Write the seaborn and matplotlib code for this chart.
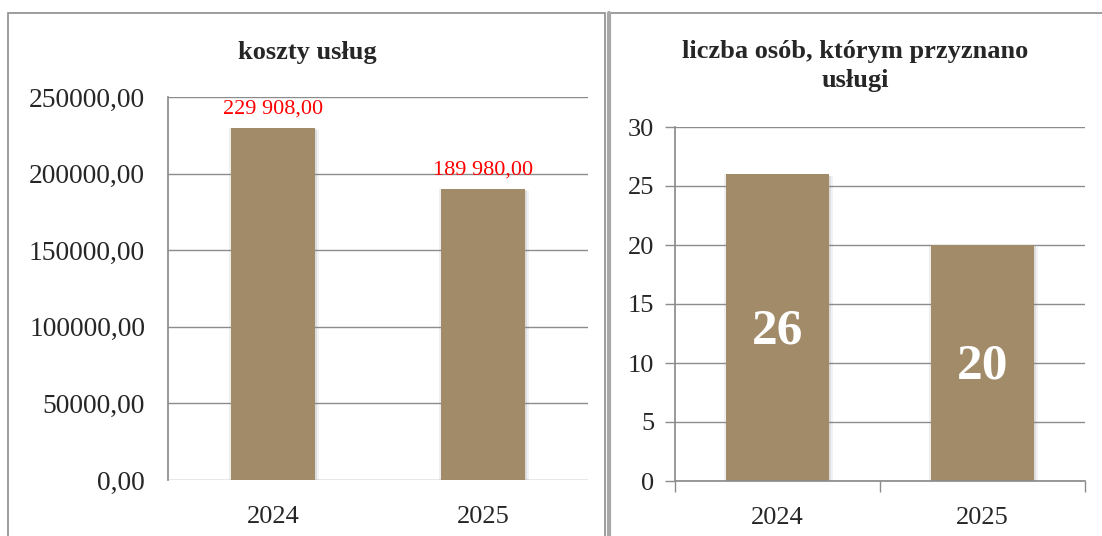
import numpy as np
import pandas as pd
import seaborn as sns
import matplotlib.pyplot as plt
from matplotlib.patches import Rectangle
from matplotlib.ticker import FuncFormatter, FixedLocator
import matplotlib.patheffects as pe

years = ["2024", "2025"]
costs = [229908.00, 189980.00]
persons = [26, 20]

title_left = "koszty usług"
title_right = "liczba osób, którym przyznano\nusługi"

bar_color = "#A28B69"
grid_color = "#8C8C8C"

sns.set_theme(style="white")
plt.rcParams["font.family"] = ["Liberation Serif", "DejaVu Serif"]

fig = plt.figure(figsize=(11.02, 5.36), dpi=100)
W, H = 1102, 536

def fx(px):
    return px / W

def fy(py):
    return 1 - py / H

# panel frames
fig.patches.append(Rectangle((fx(8), fy(560)), fx(597), (560 - 13) / H,
                             transform=fig.transFigure, fill=False,
                             edgecolor="#8C8C8C", lw=1.2))
fig.patches.append(Rectangle((fx(609), fy(560)), fx(520), (560 - 13) / H,
                             transform=fig.transFigure, fill=False,
                             edgecolor="#8C8C8C", lw=1.2))
fig.add_artist(plt.Line2D([fx(609), fx(609)], [0, fy(13)], transform=fig.transFigure,
                          color="#A8A8A8", lw=3))

# soft shadow round the bars
shadow = [pe.SimplePatchShadow(offset=(-1.5, 0), shadow_rgbFace="#808080", alpha=0.12),
          pe.SimplePatchShadow(offset=(1.5, -1), shadow_rgbFace="#808080", alpha=0.18),
          pe.SimplePatchShadow(offset=(3, -1.5), shadow_rgbFace="#808080", alpha=0.10),
          pe.Normal()]

# ---- left chart
ax1 = fig.add_axes([fx(168), fy(480), fx(420), (480 - 97) / H])
df1 = pd.DataFrame({"rok": years, "koszt": costs})
sns.barplot(data=df1, x="rok", y="koszt", color=bar_color, saturation=1, width=0.4,
            linewidth=0, ax=ax1)
for p in ax1.patches:
    p.set_path_effects(shadow)
ax1.set_ylim(0, 250000)
ax1.set_xlim(-0.5, 1.5)
ax1.yaxis.set_major_locator(FixedLocator(np.arange(0, 250001, 50000)))
ax1.yaxis.set_major_formatter(FuncFormatter(lambda v, _: f"{v:.2f}".replace(".", ",")))
ax1.grid(axis="y", color=grid_color, lw=1)
ax1.set_axisbelow(True)
for s in ["top", "right", "bottom"]:
    ax1.spines[s].set_visible(False)
ax1.spines["left"].set_color(grid_color)
ax1.tick_params(axis="y", length=0, pad=16.5, labelsize=19.8)
ax1.tick_params(axis="x", length=0, pad=19, labelsize=19)
ax1.set_xlabel("")
ax1.set_ylabel("")
for i, v in enumerate(costs):
    lab = f"{v:,.2f}".replace(",", " ").replace(".", ",")
    ax1.text(i, v + 12500, lab, ha="center", va="center", color="red", fontsize=16)
fig.text(fx(307), fy(52), title_left, ha="center", va="center", fontsize=19, fontweight="bold")

# ---- right chart
ax2 = fig.add_axes([fx(675), fy(481), fx(410), (481 - 127) / H])
df2 = pd.DataFrame({"rok": years, "osoby": persons})
sns.barplot(data=df2, x="rok", y="osoby", color=bar_color, saturation=1, width=0.5,
            linewidth=0, ax=ax2)
for p in ax2.patches:
    p.set_path_effects(shadow)
ax2.set_ylim(0, 30)
ax2.set_xlim(-0.5, 1.5)
ax2.yaxis.set_major_locator(FixedLocator(np.arange(0, 31, 5)))
ax2.xaxis.set_minor_locator(FixedLocator([-0.5, 0.5, 1.5]))
ax2.grid(axis="y", color=grid_color, lw=1)
ax2.set_axisbelow(True)
for s in ["top", "right"]:
    ax2.spines[s].set_visible(False)
ax2.spines["left"].set_color(grid_color)
ax2.spines["bottom"].set_color(grid_color)
ax2.tick_params(axis="y", length=7, width=1, color=grid_color, pad=8, labelsize=19, left=True)
ax2.tick_params(axis="x", which="major", length=0, pad=19, labelsize=19)
ax2.tick_params(axis="x", which="minor", length=8, width=1, color=grid_color, bottom=True)
ax2.set_xlabel("")
ax2.set_ylabel("")
for i, v in enumerate(persons):
    ax2.text(i, v / 2 - 0.3, str(v), ha="center", va="center", color="white",
             fontsize=37, fontweight="bold")
fig.text(fx(855), fy(66), title_right, ha="center", va="center", fontsize=19,
         fontweight="bold", linespacing=1.3)

fig.savefig("out.png", dpi=100, facecolor="white")
